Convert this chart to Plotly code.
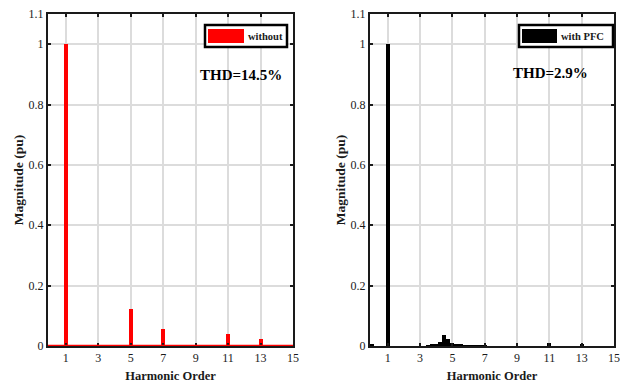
import plotly.graph_objects as go
from plotly.subplots import make_subplots

# ---- data ----
harm_without = [1, 5, 7, 11, 13]
mag_without = [1.0, 0.123, 0.056, 0.041, 0.023]

harm_pfc = [0, 1, 3.5, 3.75, 4.0, 4.25, 4.5, 4.75, 5.0, 5.25, 5.5, 5.75, 6.0, 6.25, 6.5, 6.75, 7.0, 11, 13]
mag_pfc = [0.006, 1.0, 0.003, 0.005, 0.007, 0.013, 0.036, 0.022, 0.011, 0.006, 0.004, 0.003, 0.003, 0.002, 0.002, 0.002, 0.002, 0.010, 0.005]

x_ticks = [1, 3, 5, 7, 9, 11, 13, 15]
y_ticks = [0, 0.2, 0.4, 0.6, 0.8, 1, 1.1]
y_tick_text = ["0", "0.2", "0.4", "0.6", "0.8", "1", "1.1"]

label_without = "without"
label_pfc = "with PFC"
thd_without = "THD=14.5%"
thd_pfc = "THD=2.9%"

# page body has an 8px margin; figure sized to fit the 628x392 window
OFF = 8
W, H = 628 - 2 * OFF, 392 - 2 * OFF
FONT = "Liberation Serif"

fig = make_subplots(rows=1, cols=2)
fig.add_trace(go.Bar(x=harm_without, y=mag_without, width=0.25, marker=dict(color="#ff0000", line=dict(width=0)),
                     showlegend=False), row=1, col=1)
fig.add_trace(go.Bar(x=harm_pfc, y=mag_pfc, width=0.25, marker=dict(color="#000000", line=dict(width=0)),
                     showlegend=False), row=1, col=2)

def px(x):
    return (x - OFF) / W

def py(y):
    return 1 - (y - OFF) / H

dom_left = [px(48), px(293)]
dom_right = [px(370), px(614)]
dom_y = [py(346), py(14)]

axis_common = dict(showline=True, linecolor="#1a1a1a", linewidth=2, mirror="ticks",
                   ticks="inside", ticklen=3, tickwidth=2, tickcolor="#1a1a1a",
                   showgrid=True, gridcolor="#dcdcdc", gridwidth=1.5, zeroline=False,
                   automargin=False, ticklabeloverflow="allow",
                   tickfont=dict(family=FONT, size=12, color="#1a1a1a"))

for i, dom in ((1, dom_left), (2, dom_right)):
    fig.update_xaxes(row=1, col=i, domain=dom, range=[-0.1, 15], tickvals=x_ticks,
                     title=dict(text="<b>Harmonic Order</b>", font=dict(family=FONT, size=12.5, color="#1a1a1a"), standoff=7),
                     **axis_common)
    fig.update_yaxes(row=1, col=i, domain=dom_y, range=[0, 1.1], tickvals=y_ticks, ticktext=y_tick_text,
                     title=dict(text="<b>Magnitude (pu)</b>", font=dict(family=FONT, size=13.5, color="#1a1a1a"), standoff=2),
                     **axis_common)

# make tick labels bold
fig.update_xaxes(tickprefix="<b>", ticksuffix="</b>")
fig.update_yaxes(tickprefix="<b>", ticksuffix="</b>")

# red baseline on left panel (tiny spectral content along the axis)
fig.add_shape(type="line", xref="x", yref="y", x0=-0.1, x1=15, y0=0, y1=0,
              line=dict(color="#ff0000", width=2.5))

shapes = []
annotations = []
# legends drawn as boxes
for (bx0, bx1, sx0, sx1, col, label, tx) in (
        (205, 287, 208, 244, "#ff0000", label_without, 246),
        (519, 613, 522, 557, "#000000", label_pfc, 559)):
    shapes.append(dict(type="rect", xref="paper", yref="paper", x0=px(bx0), x1=px(bx1), y0=py(47), y1=py(25),
                       line=dict(color="#000000", width=2.5), fillcolor="white", layer="above"))
    shapes.append(dict(type="rect", xref="paper", yref="paper", x0=px(sx0), x1=px(sx1), y0=py(43), y1=py(29),
                       line=dict(width=0), fillcolor=col, layer="above"))
    annotations.append(dict(xref="paper", yref="paper", x=px(tx), y=py(36), xanchor="left", yanchor="middle",
                            text=f"<b>{label}</b>", showarrow=False,
                            font=dict(family=FONT, size=10.5, color="#1a1a1a")))

annotations.append(dict(xref="paper", yref="paper", x=px(241), y=py(75), xanchor="center", yanchor="middle",
                        text=f"<b>{thd_without}</b>", showarrow=False, font=dict(family=FONT, size=15, color="#000")))
annotations.append(dict(xref="paper", yref="paper", x=px(550), y=py(73), xanchor="center", yanchor="middle",
                        text=f"<b>{thd_pfc}</b>", showarrow=False, font=dict(family=FONT, size=15, color="#000")))

for s in shapes:
    fig.add_shape(**s)
for a in annotations:
    fig.add_annotation(**a)

fig.update_layout(width=W, height=H, margin=dict(l=0, r=0, t=0, b=0),
                  paper_bgcolor="white", plot_bgcolor="white", bargap=0, showlegend=False)

fig.write_html("out.html")
